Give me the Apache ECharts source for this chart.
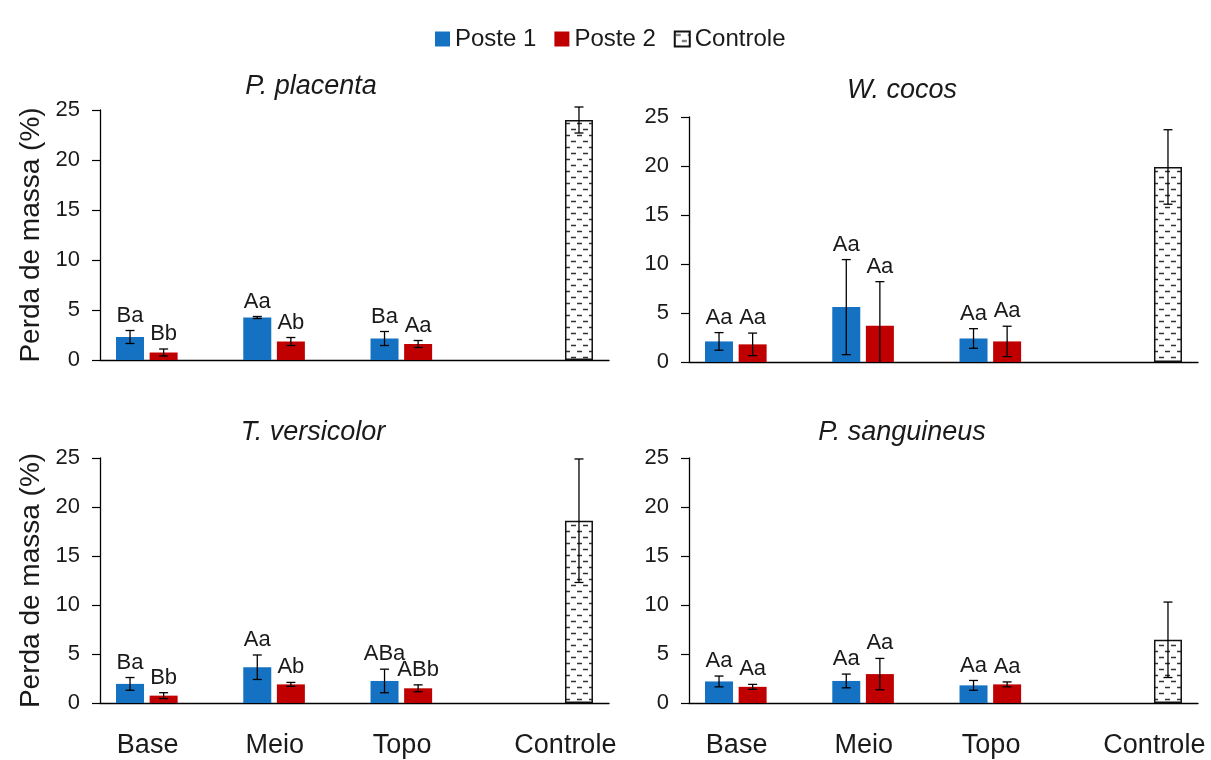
<!DOCTYPE html>
<html>
<head>
<meta charset="utf-8">
<script src="https://cdn.jsdelivr.net/npm/echarts@6/dist/echarts.min.js"></script>
<style>
html,body{margin:0;padding:0;background:#fff;}
#chart{width:1211px;height:760px;}
</style>
</head>
<body>
<div id="chart"></div>
<script>
// ---------------- DATA ----------------
const categories = ['Base', 'Meio', 'Topo', 'Controle'];
const seriesNames = ['Poste 1', 'Poste 2', 'Controle'];
const panelTitles = ['P. placenta', 'W. cocos', 'T. versicolor', 'P. sanguineus'];
const yAxisName = 'Perda de massa (%)';
const yMin = 0, yMax = 25, yStep = 5;

// P. placenta
const placentaPoste1 = [2.3, 4.25, 2.15];
const placentaPoste1Err = [0.65, 0.1, 0.7];
const placentaPoste2 = [0.75, 1.85, 1.6];
const placentaPoste2Err = [0.35, 0.4, 0.35];
const placentaControle = [24.0];
const placentaControleErr = [1.3];
const placentaLetters1 = ['Ba', 'Aa', 'Ba'];
const placentaLetters2 = ['Bb', 'Ab', 'Aa'];

// W. cocos
const cocosPoste1 = [2.1, 5.6, 2.4];
const cocosPoste1Err = [0.9, 4.85, 1.0];
const cocosPoste2 = [1.8, 3.7, 2.1];
const cocosPoste2Err = [1.15, 4.5, 1.55];
const cocosControle = [19.9];
const cocosControleErr = [3.8];
const cocosLetters1 = ['Aa', 'Aa', 'Aa'];
const cocosLetters2 = ['Aa', 'Aa', 'Aa'];

// T. versicolor
const versicolorPoste1 = [1.95, 3.65, 2.25];
const versicolorPoste1Err = [0.65, 1.25, 1.2];
const versicolorPoste2 = [0.75, 1.9, 1.5];
const versicolorPoste2Err = [0.3, 0.2, 0.35];
const versicolorControle = [18.6];
const versicolorControleErr = [6.3];
const versicolorLetters1 = ['Ba', 'Aa', 'ABa'];
const versicolorLetters2 = ['Bb', 'Ab', 'ABb'];

// P. sanguineus
const sanguineusPoste1 = [2.2, 2.25, 1.8];
const sanguineusPoste1Err = [0.55, 0.7, 0.5];
const sanguineusPoste2 = [1.65, 2.95, 1.9];
const sanguineusPoste2Err = [0.25, 1.6, 0.25];
const sanguineusControle = [6.45];
const sanguineusControleErr = [3.85];
const sanguineusLetters1 = ['Aa', 'Aa', 'Aa'];
const sanguineusLetters2 = ['Aa', 'Aa', 'Aa'];

// ---------------- STYLE ----------------
const FONT = '"Liberation Sans", Arial, sans-serif';
const TXT = '#1a1a1a';
const BLUE = '#1572c2';
const RED = '#c00000';
const BAR_W = 28;
const BAR_GAP = 0.2;
const SLOT = BAR_W * (1 + BAR_GAP);

function makePattern() {
  const c = document.createElement('canvas');
  c.width = 12; c.height = 12;
  const g = c.getContext('2d');
  g.fillStyle = '#ffffff';
  g.fillRect(0, 0, 12, 12);
  g.strokeStyle = '#333';
  g.lineWidth = 1.3;
  g.beginPath();
  g.moveTo(1, 3.5); g.lineTo(6, 3.5);
  g.moveTo(7, 9.5); g.lineTo(12, 9.5);
  g.stroke();
  return c;
}
const pattern = { image: makePattern(), repeat: 'repeat' };

const panels = [
  { p1: placentaPoste1, e1: placentaPoste1Err, p2: placentaPoste2, e2: placentaPoste2Err,
    c: placentaControle, ec: placentaControleErr, l1: placentaLetters1, l2: placentaLetters2,
    grid: { left: 100, top: 110, width: 509, height: 250 }, titleX: 306, titleY: 68, left: true, bottom: false },
  { p1: cocosPoste1, e1: cocosPoste1Err, p2: cocosPoste2, e2: cocosPoste2Err,
    c: cocosControle, ec: cocosControleErr, l1: cocosLetters1, l2: cocosLetters2,
    grid: { left: 689, top: 117, width: 509, height: 245 }, titleX: 897, titleY: 72, left: false, bottom: false },
  { p1: versicolorPoste1, e1: versicolorPoste1Err, p2: versicolorPoste2, e2: versicolorPoste2Err,
    c: versicolorControle, ec: versicolorControleErr, l1: versicolorLetters1, l2: versicolorLetters2,
    grid: { left: 100, top: 458, width: 509, height: 245 }, titleX: 308, titleY: 414, left: true, bottom: true },
  { p1: sanguineusPoste1, e1: sanguineusPoste1Err, p2: sanguineusPoste2, e2: sanguineusPoste2Err,
    c: sanguineusControle, ec: sanguineusControleErr, l1: sanguineusLetters1, l2: sanguineusLetters2,
    grid: { left: 689, top: 458, width: 509, height: 245 }, titleX: 897, titleY: 414, left: false, bottom: true }
];

const option = {
  backgroundColor: '#ffffff',
  animation: false,
  textStyle: { fontFamily: FONT },
  legend: {
    data: seriesNames,
    left: 430, top: 22,
    itemWidth: 15, itemHeight: 15, itemGap: 18,
    icon: 'rect',
    textStyle: { fontSize: 24, color: TXT, fontFamily: FONT }
  },
  title: [], grid: [], xAxis: [], yAxis: [], series: []
};

panels.forEach((pn, i) => {
  option.title.push({
    text: panelTitles[i], left: pn.titleX, top: pn.titleY, textAlign: 'center',
    textStyle: { fontSize: 27, fontStyle: 'italic', fontWeight: 'normal', color: TXT, fontFamily: FONT }
  });
  option.grid.push(Object.assign({ containLabel: false }, pn.grid));
  option.xAxis.push({
    type: 'category', gridIndex: i, data: categories,
    axisLine: { show: true, lineStyle: { color: '#000', width: 1.3 } },
    axisTick: { show: false },
    splitLine: { show: false },
    axisLabel: pn.bottom ? {
      show: true, interval: 0, margin: 29,
      formatter: v => (v === 'Controle' ? '{r|' + v + '}' : '{l|' + v + '}'),
      rich: {
        l: { fontSize: 27, color: TXT, fontFamily: FONT, padding: [0, 32, 0, 0] },
        r: { fontSize: 27, color: TXT, fontFamily: FONT, padding: [0, 0, 0, 40] }
      }
    } : { show: false }
  });
  option.yAxis.push({
    type: 'value', gridIndex: i, min: yMin, max: yMax, interval: yStep,
    name: pn.left ? yAxisName : '',
    nameLocation: 'middle', nameGap: 55, nameRotate: 90,
    nameTextStyle: { fontSize: 28, color: TXT, fontFamily: FONT },
    axisLine: { show: true, lineStyle: { color: '#000', width: 1.3 } },
    axisTick: { show: true, length: 8, lineStyle: { color: '#000', width: 1.2 } },
    splitLine: { show: false },
    axisLabel: { fontSize: 22, color: TXT, fontFamily: FONT, margin: 20 }
  });
  const ctrlData = ['-', '-', '-', pn.c[0]];
  option.series.push({
    name: seriesNames[0], type: 'bar', xAxisIndex: i, yAxisIndex: i,
    data: pn.p1.concat(['-']), barWidth: BAR_W, barGap: (BAR_GAP * 100) + '%',
    itemStyle: { color: BLUE }
  });
  option.series.push({
    name: seriesNames[1], type: 'bar', xAxisIndex: i, yAxisIndex: i,
    data: pn.p2.concat(['-']), barWidth: BAR_W, barGap: (BAR_GAP * 100) + '%',
    itemStyle: { color: RED }
  });
  option.series.push({
    name: seriesNames[2], type: 'bar', xAxisIndex: i, yAxisIndex: i,
    data: ctrlData, barWidth: BAR_W, barGap: (BAR_GAP * 100) + '%',
    itemStyle: { color: pattern, borderColor: '#111', borderWidth: 1.5 }
  });
  // error bars + letters
  const errData = [];
  const letters = [];
  pn.p1.forEach((v, k) => { errData.push([k, v, pn.e1[k], 0]); letters.push(pn.l1[k]); });
  pn.p2.forEach((v, k) => { errData.push([k, v, pn.e2[k], 1]); letters.push(pn.l2[k]); });
  errData.push([3, pn.c[0], pn.ec[0], 2]); letters.push('');
  option.series.push({
    type: 'custom', name: 'err' + i, xAxisIndex: i, yAxisIndex: i, z: 5,
    data: errData, clip: false,
    renderItem: (params, api) => {
      const cat = api.value(0), val = api.value(1), err = api.value(2), slot = api.value(3);
      const dx = (slot - 1) * SLOT;
      const lo = Math.max(0, val - err);
      const pTop = api.coord([cat, val + err]);
      const pBot = api.coord([cat, lo]);
      const x = pTop[0] + dx;
      const ls = { stroke: '#000', lineWidth: 1.3 };
      const ch = [
        { type: 'line', shape: { x1: x, y1: pTop[1], x2: x, y2: pBot[1] }, style: ls },
        { type: 'line', shape: { x1: x - 4.5, y1: pTop[1], x2: x + 4.5, y2: pTop[1] }, style: ls }
      ];
      if (val - err > 0) {
        ch.push({ type: 'line', shape: { x1: x - 4.5, y1: pBot[1], x2: x + 4.5, y2: pBot[1] }, style: ls });
      }
      const lab = letters[params.dataIndex];
      if (lab) {
        ch.push({ type: 'text', style: { text: lab, x: x, y: pTop[1] - 4, align: 'center', verticalAlign: 'bottom',
          fontSize: 22, fontFamily: FONT, fill: TXT } });
      }
      return { type: 'group', children: ch };
    }
  });
});

const chart = echarts.init(document.getElementById('chart'), null, { renderer: 'canvas' });
chart.setOption(option);
</script>
</body>
</html>
